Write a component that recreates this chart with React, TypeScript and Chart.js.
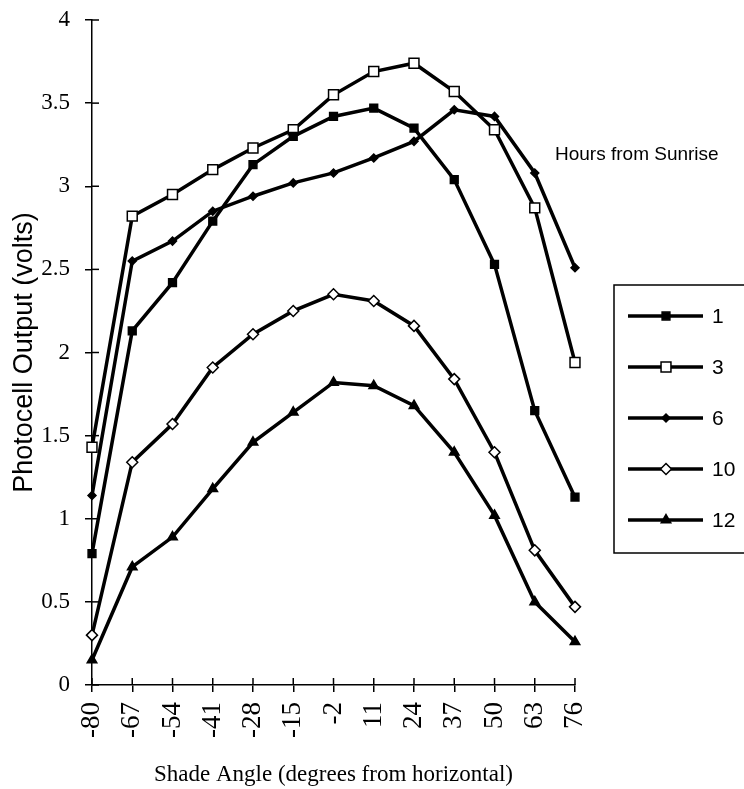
import React, { useEffect, useRef } from 'react';
import { Chart, registerables } from 'chart.js';
import { drawPoint } from 'chart.js/helpers';

Chart.register(...registerables);

const angles = ['-80', '-67', '-54', '-41', '-28', '-15', '-2', '11', '24', '37', '50', '63', '76'];
const seriesLabels = ['1', '3', '6', '10', '12'];
const hour1 = [0.79, 2.13, 2.42, 2.79, 3.13, 3.30, 3.42, 3.47, 3.35, 3.04, 2.53, 1.65, 1.13];
const hour3 = [1.43, 2.82, 2.95, 3.10, 3.23, 3.34, 3.55, 3.69, 3.74, 3.57, 3.34, 2.87, 1.94];
const hour6 = [1.14, 2.55, 2.67, 2.85, 2.94, 3.02, 3.08, 3.17, 3.27, 3.46, 3.42, 3.08, 2.51];
const hour10 = [0.30, 1.34, 1.57, 1.91, 2.11, 2.25, 2.35, 2.31, 2.16, 1.84, 1.40, 0.81, 0.47];
const hour12 = [0.15, 0.71, 0.89, 1.18, 1.46, 1.64, 1.82, 1.80, 1.68, 1.40, 1.02, 0.50, 0.26];
const yTicks = [0, 0.5, 1, 1.5, 2, 2.5, 3, 3.5, 4];
const legendTitle = 'Hours from Sunrise';
const xTitle = 'Shade Angle (degrees from horizontal)';
const yTitle = 'Photocell Output (volts)';

const SERIF = '"Liberation Serif", "Times New Roman", serif';
const SANS = '"Liberation Sans", Arial, sans-serif';

const markers = [
  { style: 'rect', radius: 5.5, fill: '#000' },
  { style: 'rect', radius: 7, fill: '#fff' },
  { style: 'rectRot', radius: 4, fill: '#000' },
  { style: 'rectRot', radius: 5.5, fill: '#fff' },
  { style: 'triangle', radius: 5.5, fill: '#000' },
];

const overlayPlugin = {
  id: 'overlay',
  afterDraw(chart: any) {
    const ctx = chart.ctx as CanvasRenderingContext2D;
    const xs = chart.scales.x;
    const ys = chart.scales.y;
    ctx.save();
    ctx.strokeStyle = '#000';
    ctx.lineWidth = 1.5;
    // inner half of cross tick marks
    yTicks.forEach((v) => {
      const py = ys.getPixelForValue(v);
      ctx.beginPath();
      ctx.moveTo(xs.left, py);
      ctx.lineTo(xs.left + 7, py);
      ctx.stroke();
    });
    angles.forEach((_, i) => {
      const px = xs.getPixelForValue(i);
      ctx.beginPath();
      ctx.moveTo(px, ys.bottom);
      ctx.lineTo(px, ys.bottom - 7);
      ctx.stroke();
    });
    // legend title
    ctx.fillStyle = '#000';
    ctx.font = '19px ' + SANS;
    ctx.textBaseline = 'middle';
    ctx.textAlign = 'left';
    ctx.fillText(legendTitle, 555, 155);
    // legend box
    ctx.lineWidth = 1.5;
    ctx.strokeRect(614, 285, 200, 268);
    chart.data.datasets.forEach((ds: any, i: number) => {
      const ly = 316 + i * 51;
      ctx.lineWidth = 3.5;
      ctx.strokeStyle = '#000';
      ctx.beginPath();
      ctx.moveTo(628, ly);
      ctx.lineTo(703, ly);
      ctx.stroke();
      ctx.fillStyle = ds.pointBackgroundColor;
      ctx.lineWidth = ds.pointBorderWidth;
      drawPoint(ctx, { pointStyle: ds.pointStyle, radius: ds.pointRadius, borderWidth: ds.pointBorderWidth, rotation: 0 } as any, 666, ly);
      ctx.fillStyle = '#000';
      ctx.font = '21px ' + SANS;
      ctx.fillText(ds.label, 712, ly + 1);
    });
    ctx.restore();
  },
};

export default function App() {
  const ref = useRef<HTMLCanvasElement>(null);
  useEffect(() => {
    document.body.style.margin = '0';
    const values = [hour1, hour3, hour6, hour10, hour12];
    const chart = new Chart(ref.current as HTMLCanvasElement, {
      type: 'line',
      data: {
        labels: angles,
        datasets: values.map((d, i) => ({
          label: seriesLabels[i],
          data: d,
          borderColor: '#000',
          borderWidth: 3.5,
          pointStyle: markers[i].style as any,
          pointRadius: markers[i].radius,
          pointBackgroundColor: markers[i].fill,
          pointBorderColor: '#000',
          pointBorderWidth: 1.5,
          tension: 0,
          clip: false as any,
        })),
      },
      options: {
        animation: false,
        responsive: false,
        layout: { padding: { left: 0, right: 169, top: 20, bottom: 0 } },
        plugins: { legend: { display: false }, tooltip: { enabled: false } },
        scales: {
          x: {
            type: 'category',
            offset: false,
            afterFit: (s: any) => { s.height = 104; s.paddingLeft = 0; s.paddingRight = 0; s.paddingTop = 0; s.paddingBottom = 0; },
            border: { display: true, color: '#000', width: 1.5 },
            grid: { display: true, drawOnChartArea: false, drawTicks: true, tickLength: 7, color: '#000', lineWidth: 1.5 },
            ticks: {
              autoSkip: false,
              minRotation: 90,
              maxRotation: 90,
              padding: 10,
              color: '#000',
              font: { family: SERIF, size: 27 },
            },
            title: {
              display: true,
              text: xTitle,
              color: '#000',
              padding: { top: 0, bottom: 0 },
              font: { family: SERIF, size: 23 },
            },
          },
          y: {
            min: 0,
            max: 4,
            afterFit: (s: any) => { s.width = 92; s.paddingTop = 0; s.paddingBottom = 0; s.paddingLeft = 0; s.paddingRight = 0; },
            afterBuildTicks: (s: any) => { s.ticks = yTicks.map((v) => ({ value: v })); },
            border: { display: true, color: '#000', width: 1.5 },
            grid: { display: true, drawOnChartArea: false, drawTicks: true, tickLength: 7, color: '#000', lineWidth: 1.5 },
            ticks: {
              padding: 15,
              color: '#000',
              font: { family: SERIF, size: 23 },
              callback: (v: any) => String(v),
            },
            title: {
              display: true,
              text: yTitle,
              color: '#000',
              padding: { top: 8, bottom: 0 },
              font: { family: SANS, size: 27 },
            },
          },
        },
      },
      plugins: [overlayPlugin],
    });
    return () => chart.destroy();
  }, []);
  return (
    <div style={{ width: 744, height: 789 }}>
      <canvas ref={ref} width={744} height={789} style={{ display: 'block' }} />
    </div>
  );
}
